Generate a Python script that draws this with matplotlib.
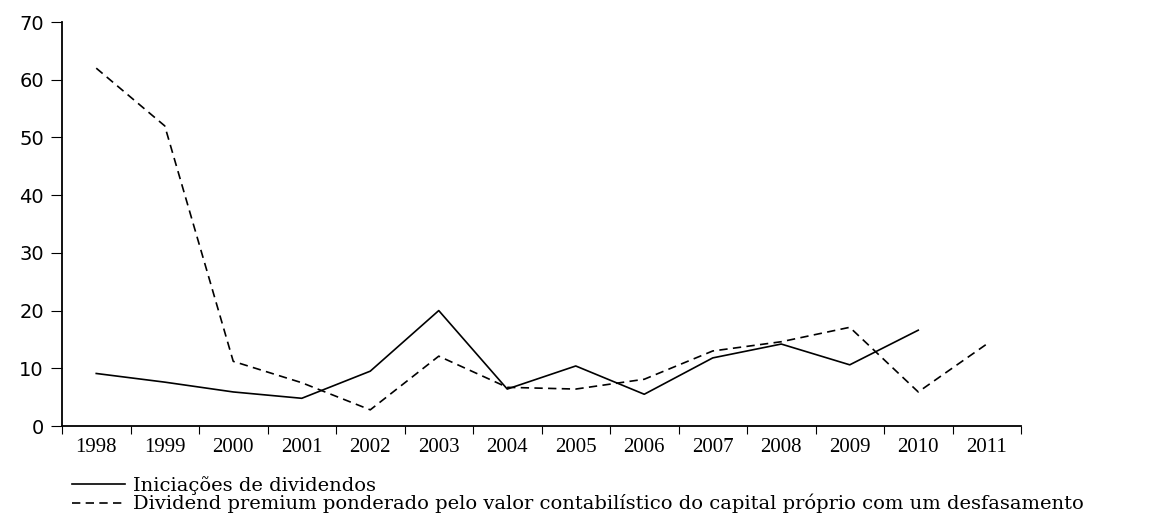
import numpy as np
import matplotlib
matplotlib.use('Agg')
import matplotlib.pyplot as plt
from matplotlib.ticker import FixedLocator, NullFormatter, FixedFormatter

# data
years = ['1998', '1999', '2000', '2001', '2002', '2003', '2004',
         '2005', '2006', '2007', '2008', '2009', '2010', '2011']
iniciacoes = [9.1, 7.6, 5.9, 4.8, 9.5, 20.0, 6.4, 10.4, 5.5, 11.8, 14.2, 10.6, 16.6, np.nan]
premium = [62.0, 52.0, 11.2, 7.5, 2.8, 12.1, 6.7, 6.4, 8.1, 13.0, 14.6, 17.1, 5.9, 14.2]
label_ini = 'Iniciações de dividendos'
label_prem = 'Dividend premium ponderado pelo valor contabilístico do capital próprio com um desfasamento'

W, H = 1167, 515
fig = plt.figure(figsize=(W / 100, H / 100), dpi=100)
ax = fig.add_axes([62 / W, 1 - 426 / H, (1021 - 62) / W, (426 - 22) / H])

x = np.arange(len(years))
ax.plot(x, iniciacoes, color='black', lw=1.2, label=label_ini)
ax.plot(x, premium, color='black', lw=1.2, dashes=(5, 3.2), label=label_prem)

# axes: only left and bottom spines
ax.spines['top'].set_visible(False)
ax.spines['right'].set_visible(False)
for s in ('left', 'bottom'):
    ax.spines[s].set_linewidth(1.3)

ax.set_xlim(-0.5, len(years) - 0.5)
ax.set_ylim(0, 70)
ax.set_yticks(np.arange(0, 71, 10))
ax.tick_params(axis='y', direction='out', length=8, width=0.8, pad=5,
               labelsize=14)
for t in ax.get_yticklabels():
    t.set_fontfamily('DejaVu Sans')

# ticks between years, labels at centres
ax.xaxis.set_major_locator(FixedLocator(np.arange(len(years) + 1) - 0.5))
ax.xaxis.set_major_formatter(NullFormatter())
ax.xaxis.set_minor_locator(FixedLocator(x))
ax.xaxis.set_minor_formatter(FixedFormatter(years))
ax.tick_params(axis='x', which='major', direction='out', length=6, width=0.8)
ax.tick_params(axis='x', which='minor', length=0, pad=9, labelsize=15)
for t in ax.xaxis.get_minorticklabels():
    t.set_fontfamily('Liberation Serif')

# legend under the plot
fig.legend(loc='upper left', bbox_to_anchor=(72 / W, 1 - 476 / H),
           frameon=False, prop={'family': 'DejaVu Serif', 'size': 14},
           handlelength=2.7, handletextpad=0.45, labelspacing=-0.05,
           borderpad=0, borderaxespad=0)

fig.savefig('out.png', dpi=100)
